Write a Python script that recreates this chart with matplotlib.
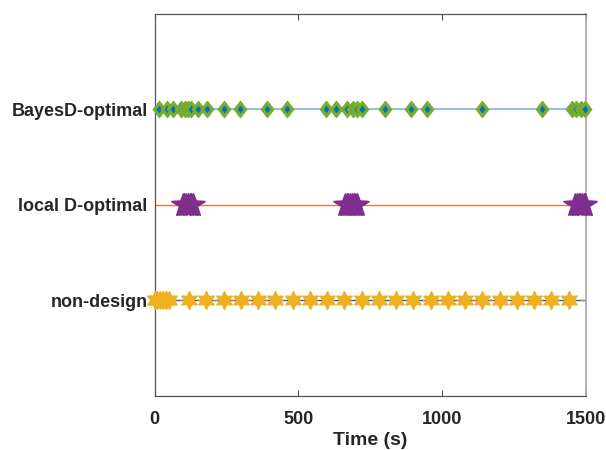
import matplotlib
matplotlib.use("Agg")
import matplotlib.pyplot as plt
from matplotlib.path import Path

# design points (s)
bayes_times = [16, 43, 64, 92, 107, 117, 126, 151, 182, 240, 298, 390, 460,
               596, 630, 670, 690, 705, 722, 802, 890, 948, 1139, 1347,
               1450, 1465, 1483, 1498]
local_times = [98, 104, 110, 116, 122, 128, 134,
               662, 668, 674, 680, 686, 692, 698, 704,
               1462, 1468, 1474, 1480, 1486, 1492, 1498]
nondesign_times = [0, 10, 20, 30, 40, 50] + [120 + 60 * i for i in range(23)]

row_labels = ['non-design', 'local D-optimal', 'BayesD-optimal']
row_pos = [1, 2, 3]
x_ticks = [0, 500, 1000, 1500]

GREEN = '#77AC30'
BLUE = '#0072BD'
PURPLE = '#7E2F8E'
YELLOW = '#EDB120'
ORANGE = '#E07B3A'
LIGHTBLUE = '#8FC4EA'

plt.rcParams['font.family'] = ['Liberation Sans', 'DejaVu Sans']

diamond = Path([(0, 1), (0.78, 0), (0, -1), (-0.78, 0), (0, 1)],
               [Path.MOVETO, Path.LINETO, Path.LINETO, Path.LINETO, Path.CLOSEPOLY])

fig = plt.figure(figsize=(6.06, 4.5), dpi=100)
ax = fig.add_axes([0.255, 0.12, 0.712, 0.849])

# row lines
ax.plot([0, 1500], [3, 3], color=LIGHTBLUE, lw=1.5, zorder=1)
ax.plot([0, 1500], [2, 2], color=ORANGE, lw=1.0, zorder=1)
ax.plot([0, 1500], [1, 1], color=BLUE, lw=1.0, zorder=1)
ax.plot([0, 1500], [1, 1], color=ORANGE, lw=1.0, ls=(0, (3, 3)), zorder=1)

# non-design: hexagrams
ax.plot(nondesign_times, [1] * len(nondesign_times), ls='none',
        marker=(6, 1, 0), ms=13, color=YELLOW, mec=YELLOW, clip_on=False, zorder=3)

# local D-optimal: pentagrams
ax.plot(local_times, [2] * len(local_times), ls='none',
        marker='*', ms=17.5, color=PURPLE, mec=PURPLE, clip_on=False, zorder=3)

# BayesD-optimal: green diamond with blue centre, one point at a time
for t in bayes_times:
    ax.plot([t], [3], ls='none', marker=diamond, ms=11.5, color=GREEN,
            mec=GREEN, mew=1.0, clip_on=False, zorder=3)
    ax.plot([t], [3], ls='none', marker=diamond, ms=5.5, color=BLUE,
            mec=BLUE, mew=0, clip_on=False, zorder=3)

ax.set_xlim(0, 1500)
ax.set_ylim(0, 4)
ax.set_xticks(x_ticks)
ax.set_yticks(row_pos)
ax.set_yticklabels(row_labels)
ax.set_xlabel('Time (s)', fontsize=14, fontweight='bold', labelpad=3)

for lab in ax.get_xticklabels() + ax.get_yticklabels():
    lab.set_fontweight('bold')
    lab.set_fontsize(13)
    lab.set_color('#262626')
ax.xaxis.label.set_color('#262626')

ax.tick_params(axis='x', direction='in', length=4, width=0.8, color='#555555',
               pad=11, top=True)
ax.tick_params(axis='y', length=0, pad=5)

for side in ('left', 'bottom', 'top'):
    ax.spines[side].set_color('#555555')
    ax.spines[side].set_linewidth(0.9)
ax.spines['right'].set_color('#AAAAAA')
ax.spines['right'].set_linewidth(1.3)

fig.savefig('out.png', dpi=100)
